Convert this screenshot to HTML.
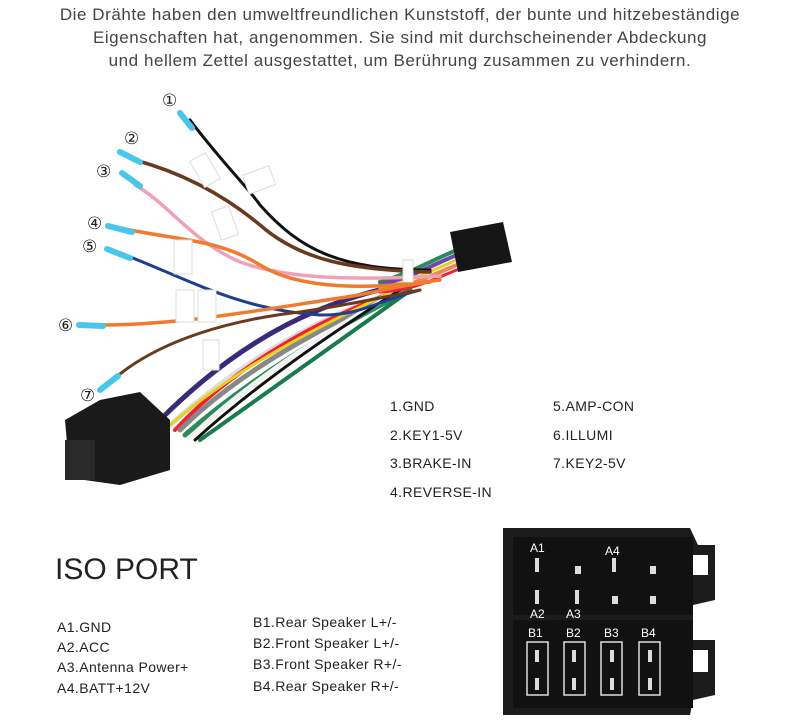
<!DOCTYPE html>
<html><head><meta charset="utf-8"><style>
body{margin:0;width:800px;height:722px;background:#fff;overflow:hidden;position:relative;font-family:"Liberation Sans",sans-serif;color:#333}
.t{position:absolute;white-space:nowrap}
#top{left:0;width:800px;text-align:center;top:3px;font-size:17px;letter-spacing:0.55px;line-height:23px;color:#444}
.l{font-size:14px;color:#222;letter-spacing:0.4px}
</style></head><body>
<div class="t" id="top">Die Drähte haben den umweltfreundlichen Kunststoff, der bunte und hitzebeständige<br>Eigenschaften hat, angenommen. Sie sind mit durchscheinender Abdeckung<br>und hellem Zettel ausgestattet, um Berührung zusammen zu verhindern.</div>
<svg width="800" height="722" style="position:absolute;left:0;top:0">
<g fill="none" stroke-linecap="round">
<path d="M400,285 C330,300 250,330 160,420" stroke="#3b2a7a" stroke-width="5"/>
<path d="M405,288 C340,310 260,345 170,425" stroke="#ddd" stroke-width="5"/>
<path d="M400,290 C330,315 240,360 175,430" stroke="#e23" stroke-width="4"/>
<path d="M395,292 C320,330 240,370 180,430" stroke="#888" stroke-width="5"/>
<path d="M410,290 C350,320 260,370 185,435" stroke="#2a8a5a" stroke-width="5"/>
<path d="M405,286 C330,320 230,370 165,430" stroke="#e8d020" stroke-width="3"/>
<path d="M398,292 C330,330 250,380 190,438" stroke="#f2f2f2" stroke-width="5"/>
<path d="M400,290 C320,340 250,390 195,440" stroke="#111" stroke-width="3"/>
<path d="M408,292 C340,340 270,390 200,440" stroke="#1a7a50" stroke-width="4"/>
<path d="M380,282 C420,270 440,255 470,245" stroke="#2a8a5a" stroke-width="4"/>
<path d="M380,285 C420,275 440,260 470,250" stroke="#6a4ab0" stroke-width="4"/>
<path d="M380,288 C420,280 440,265 470,255" stroke="#e8d020" stroke-width="3"/>
<path d="M380,290 C420,285 440,270 470,260" stroke="#e85" stroke-width="4"/>
<path d="M380,292 C420,290 440,275 470,265" stroke="#e23" stroke-width="3"/>
<path d="M190,120 C220,160 250,190 260,205 C300,250 340,270 430,270" stroke="#111" stroke-width="3"/>
<path d="M135,160 C190,175 230,200 260,225 C300,260 350,270 430,272" stroke="#6b3a1e" stroke-width="3.5"/>
<path d="M135,185 C170,205 190,240 240,262 C290,280 360,280 440,276" stroke="#f0a0b8" stroke-width="3.5"/>
<path d="M130,230 C180,240 220,240 260,265 C300,290 370,290 440,280" stroke="#f07a30" stroke-width="3.5"/>
<path d="M125,255 C190,280 240,310 320,315 C360,316 380,300 420,290" stroke="#1e3e90" stroke-width="3"/>
<path d="M100,325 C180,325 260,310 340,298 C380,292 400,285 430,282" stroke="#f07a30" stroke-width="3.5"/>
<path d="M115,378 C160,340 230,320 300,312 C340,306 370,300 420,290" stroke="#6b3a1e" stroke-width="3"/>
<g stroke="#49c6ec" stroke-width="6">
<path d="M180,113 L192,128"/><path d="M120,152 L140,162"/><path d="M122,173 L140,186"/><path d="M108,226 L132,232"/><path d="M107,249 L130,258"/><path d="M79,325 L103,326"/><path d="M100,390 L118,376"/>
</g>
</g>
<g fill="#fff" stroke="#ddd">
<rect x="196" y="155" width="18" height="30" transform="rotate(-30 205 170)"/>
<rect x="245" y="170" width="28" height="20" transform="rotate(-20 259 180)"/>
<rect x="216" y="208" width="18" height="30" transform="rotate(-20 225 223)"/>
<rect x="174" y="240" width="18" height="34"/>
<rect x="176" y="290" width="18" height="32"/>
<rect x="198" y="290" width="18" height="32"/>
<rect x="203" y="340" width="16" height="30"/>
<rect x="403" y="260" width="10" height="22"/>
</g>
<path d="M450,232 L503,222 L512,262 L458,272 Z" fill="#151515"/>
<path d="M100,400 L140,392 L170,420 L170,470 L120,485 L70,478 L65,420 Z" fill="#1a1a1a"/>
<rect x="65" y="440" width="30" height="40" fill="#2a2a2a"/>
<path d="M503,528 L690,528 L698,545 L715,545 L715,600 L693,605 L693,640 L715,640 L715,695 L693,700 L690,715 L503,715 Z" fill="#1c1c1c"/>
<rect x="513" y="537" width="180" height="78" fill="#111"/>
<rect x="513" y="620" width="180" height="88" fill="#111"/>
<rect x="693" y="555" width="15" height="20" fill="#fff"/>
<rect x="693" y="650" width="15" height="22" fill="#fff"/>
<g fill="#ddd">
<rect x="535" y="558" width="4" height="14"/><rect x="575" y="566" width="6" height="8"/><rect x="612" y="558" width="4" height="14"/><rect x="650" y="566" width="6" height="8"/>
<rect x="535" y="590" width="4" height="14"/><rect x="575" y="590" width="4" height="14"/><rect x="612" y="596" width="6" height="8"/><rect x="650" y="596" width="6" height="8"/>
</g>
<g fill="none" stroke="#ddd" stroke-width="1.5">
<rect x="527" y="642" width="21" height="53"/><rect x="564" y="642" width="21" height="53"/><rect x="601" y="642" width="21" height="53"/><rect x="639" y="642" width="21" height="53"/>
</g>
<g fill="#ddd">
<rect x="535" y="650" width="4" height="12"/><rect x="535" y="678" width="4" height="12"/><rect x="572" y="650" width="4" height="12"/><rect x="572" y="678" width="4" height="12"/><rect x="610" y="650" width="4" height="12"/><rect x="610" y="678" width="4" height="12"/><rect x="648" y="650" width="4" height="12"/><rect x="648" y="678" width="4" height="12"/>
</g>
<g fill="#fff" font-family="Liberation Sans" font-size="12">
<text x="530" y="552">A1</text><text x="605" y="555">A4</text><text x="530" y="618">A2</text><text x="566" y="618">A3</text>
<text x="528" y="637">B1</text><text x="566" y="637">B2</text><text x="604" y="637">B3</text><text x="641" y="637">B4</text>
</g>
<g fill="#222" font-family="DejaVu Sans" font-size="17">
<text x="162" y="106">①</text><text x="124" y="144">②</text><text x="96" y="177">③</text><text x="87" y="229">④</text><text x="82" y="252">⑤</text><text x="58" y="331">⑥</text><text x="80" y="401">⑦</text>
</g>
</svg>
<div class="t l" style="left:390px;top:398px">1.GND</div>
<div class="t l" style="left:390px;top:427px">2.KEY1-5V</div>
<div class="t l" style="left:390px;top:455px">3.BRAKE-IN</div>
<div class="t l" style="left:390px;top:484px">4.REVERSE-IN</div>
<div class="t l" style="left:553px;top:398px">5.AMP-CON</div>
<div class="t l" style="left:553px;top:427px">6.ILLUMI</div>
<div class="t l" style="left:553px;top:455px">7.KEY2-5V</div>
<div class="t" style="left:55px;top:553px;font-size:30px;font-weight:300;color:#222">ISO PORT</div>
<div class="t l" style="left:57px;top:619px">A1.GND</div>
<div class="t l" style="left:57px;top:639px">A2.ACC</div>
<div class="t l" style="left:57px;top:659px">A3.Antenna Power+</div>
<div class="t l" style="left:57px;top:680px">A4.BATT+12V</div>
<div class="t l" style="left:253px;top:614px">B1.Rear Speaker L+/-</div>
<div class="t l" style="left:253px;top:635px">B2.Front Speaker L+/-</div>
<div class="t l" style="left:253px;top:656px">B3.Front Speaker R+/-</div>
<div class="t l" style="left:253px;top:678px">B4.Rear Speaker R+/-</div>
</body></html>
